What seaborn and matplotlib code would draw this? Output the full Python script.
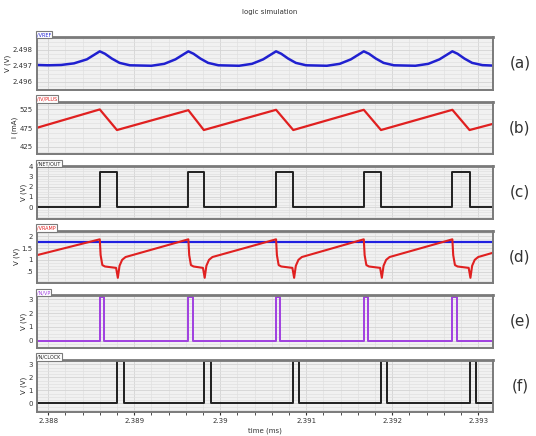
import numpy as np
import matplotlib
matplotlib.use("Agg")
import matplotlib.pyplot as plt
import seaborn as sns
from matplotlib.ticker import MultipleLocator, AutoMinorLocator

# time axis (ms)
t_start = 2.38787
t_end = 2.393174

# (a) reference voltage ripple
a_t = [2.38787, 2.38800, 2.38815, 2.38830, 2.38845, 2.38860, 2.38866, 2.38874, 2.38883, 2.38895,
       2.38920, 2.38935, 2.38948, 2.38963, 2.38969, 2.38977, 2.38986, 2.38998, 2.39022, 2.39037,
       2.39050, 2.39065, 2.39071, 2.39079, 2.39088, 2.39100, 2.39124, 2.39139, 2.39152, 2.39167,
       2.39173, 2.39181, 2.39190, 2.39202, 2.39227, 2.39242, 2.39255, 2.39270, 2.39276, 2.39284,
       2.39293, 2.39305, 2.39318]
a_v = [2.49705, 2.49703, 2.49705, 2.49715, 2.49740, 2.49790, 2.49775, 2.49745, 2.49718, 2.49703,
       2.49700, 2.49712, 2.49740, 2.49790, 2.49775, 2.49745, 2.49718, 2.49703, 2.49700, 2.49712,
       2.49740, 2.49790, 2.49775, 2.49745, 2.49718, 2.49703, 2.49700, 2.49712, 2.49740, 2.49790,
       2.49775, 2.49745, 2.49718, 2.49703, 2.49700, 2.49712, 2.49740, 2.49790, 2.49775, 2.49745,
       2.49718, 2.49704, 2.49701]

# (b) inductor current (mA)
b_t = [2.38787, 2.38860, 2.38880, 2.38963, 2.38981, 2.39065, 2.39085, 2.39167, 2.39187,
       2.39270, 2.39290, 2.39318]
b_v = [476, 525, 470, 523, 470, 524, 470, 524, 470, 524, 470, 487]

# (c) switch gate
c_t = [2.38787, 2.38860, 2.38880, 2.38963, 2.38981, 2.39065, 2.39085, 2.39167, 2.39187,
       2.39270, 2.39290, 2.39318]
c_v = [0, 3.4, 0, 3.4, 0, 3.4, 0, 3.4, 0, 3.4, 0, 0]

# (d) ramp and threshold
d_t = [2.38787,
       2.38860, 2.38861, 2.38863, 2.38866, 2.38879, 2.38881, 2.38883, 2.38886, 2.38890,
       2.38963, 2.38964, 2.38966, 2.38969, 2.38980, 2.38982, 2.38984, 2.38987, 2.38991,
       2.39065, 2.39066, 2.39068, 2.39071, 2.39084, 2.39086, 2.39088, 2.39091, 2.39095,
       2.39167, 2.39168, 2.39170, 2.39173, 2.39186, 2.39188, 2.39190, 2.39193, 2.39197,
       2.39270, 2.39271, 2.39273, 2.39276, 2.39289, 2.39291, 2.39293, 2.39296, 2.39300,
       2.39318]
d_v = [1.20,
       1.87, 1.20, 0.78, 0.72, 0.66, 0.24, 0.75, 1.00, 1.12,
       1.87, 1.20, 0.78, 0.72, 0.66, 0.24, 0.75, 1.00, 1.12,
       1.87, 1.20, 0.78, 0.72, 0.66, 0.24, 0.75, 1.00, 1.12,
       1.87, 1.20, 0.78, 0.72, 0.66, 0.24, 0.75, 1.00, 1.12,
       1.87, 1.20, 0.78, 0.72, 0.66, 0.24, 0.75, 1.00, 1.12,
       1.31]
dref_t = [2.38787, 2.39318]
dref_v = [1.75, 1.75]

# (e) set pulse
e_t = [2.38787, 2.38860, 2.38865, 2.38963, 2.38968, 2.39065, 2.39070, 2.39167, 2.39172,
       2.39270, 2.39275, 2.39318]
e_v = [0, 3.15, 0, 3.15, 0, 3.15, 0, 3.15, 0, 3.15, 0, 0]

# (f) clock / reset pulse
f_t = [2.38787, 2.38880, 2.38888, 2.38981, 2.38989, 2.39085, 2.39092, 2.39187, 2.39194,
       2.39290, 2.39297, 2.39318]
f_v = [0, 3.25, 0, 3.25, 0, 3.25, 0, 3.25, 0, 3.25, 0, 0]

sns.set_style("whitegrid")
plt.rcParams['font.family'] = ['DejaVu Sans']

fig, axes = plt.subplots(6, 1, figsize=(5.36, 4.36), dpi=100, sharex=True)
fig.subplots_adjust(left=0.069, right=0.92, top=0.915, bottom=0.055, hspace=0.23)

panels = [
    dict(name="/VREF", color="#2020d0", ylab="V (V)", ylim=(2.49552, 2.49879),
         ticks=[2.496, 2.497, 2.498], labels=["2.496", "2.497", "2.498"]),
    dict(name="/IV/PLUS", color="#e02020", ylab="I (mA)", ylim=(406, 546),
         ticks=[425, 475, 525], labels=["425", "475", "525"]),
    dict(name="/NET/OUT", color="#202020", ylab="V (V)", ylim=(-1.1, 4.0),
         ticks=[0, 1, 2, 3, 4], labels=["0", "1", "2", "3", "4"]),
    dict(name="/VRAMP", color="#e02020", ylab="V (V)", ylim=(0.02, 2.24),
         ticks=[0.5, 1.0, 1.5, 2.0], labels=[".5", "1", "1.5", "2"]),
    dict(name="/N/VP", color="#a040e0", ylab="V (V)", ylim=(-0.5, 3.3),
         ticks=[0, 1, 2, 3], labels=["0", "1", "2", "3"]),
    dict(name="/N/CLOCK", color="#202020", ylab="V (V)", ylim=(-0.67, 3.36),
         ticks=[0, 1, 2, 3], labels=["0", "1", "2", "3"]),
]

sns.lineplot(x=a_t, y=a_v, ax=axes[0], color="#2020d0", lw=1.8, estimator=None, sort=False)
sns.lineplot(x=b_t, y=b_v, ax=axes[1], color="#e02020", lw=1.6, estimator=None, sort=False)
sns.lineplot(x=c_t, y=c_v, ax=axes[2], color="#202020", lw=1.4, estimator=None, sort=False,
             drawstyle="steps-post")
sns.lineplot(x=dref_t, y=dref_v, ax=axes[3], color="#2020e0", lw=1.6, estimator=None, sort=False)
sns.lineplot(x=d_t, y=d_v, ax=axes[3], color="#e02020", lw=1.5, estimator=None, sort=False)
sns.lineplot(x=e_t, y=e_v, ax=axes[4], color="#a040e0", lw=1.4, estimator=None, sort=False,
             drawstyle="steps-post")
sns.lineplot(x=f_t, y=f_v, ax=axes[5], color="#202020", lw=1.4, estimator=None, sort=False,
             drawstyle="steps-post")

for ax, p, tag in zip(axes, panels, "abcdef"):
    ax.set_facecolor("#f1f1f1")
    ax.set_ylim(*p["ylim"])
    ax.set_yticks(p["ticks"])
    ax.set_yticklabels(p["labels"], fontsize=5)
    ax.yaxis.set_minor_locator(AutoMinorLocator(4))
    ax.xaxis.set_minor_locator(MultipleLocator(0.0002))
    ax.grid(which="major", axis="both", color="#d4d4d4", lw=0.6)
    ax.grid(which="minor", axis="both", color="#e0e0e0", lw=0.5)
    ax.set_ylabel(p["ylab"], fontsize=5, labelpad=1)
    ax.tick_params(axis="y", length=2, pad=1, colors="#333333")
    for s in ax.spines.values():
        s.set_color("#7a7a7a")
        s.set_linewidth(1.4)
    ax.spines["top"].set_linewidth(2.0)
    ax.text(0.0, 1.0, p["name"], transform=ax.transAxes, fontsize=3.5, color=p["color"],
            ha="left", va="bottom",
            bbox=dict(boxstyle="square,pad=0.25", fc="white", ec="#7a7a7a", lw=0.8))
    bb = ax.get_position()
    fig.text(0.970, (bb.y0 + bb.y1) / 2, "(%s)" % tag, fontsize=11, color="#333333",
             ha="center", va="center")

ax = axes[-1]
ax.set_xlim(t_start, t_end)
xt = [2.388, 2.389, 2.390, 2.391, 2.392, 2.393]
ax.set_xticks(xt)
ax.set_xticklabels(["2.388", "2.389", "2.39", "2.391", "2.392", "2.393"], fontsize=5)
ax.tick_params(axis="x", which="both", length=2, pad=2, colors="#333333", bottom=True)
for a in axes[:-1]:
    a.tick_params(axis="x", which="both", bottom=False)

fig.text(0.504, 0.972, "logic simulation", fontsize=5, ha="center", va="center", color="#333333")
fig.text(0.494, 0.011, "time (ms)", fontsize=5, ha="center", va="center", color="#333333")

fig.savefig("out.png", dpi=100)
